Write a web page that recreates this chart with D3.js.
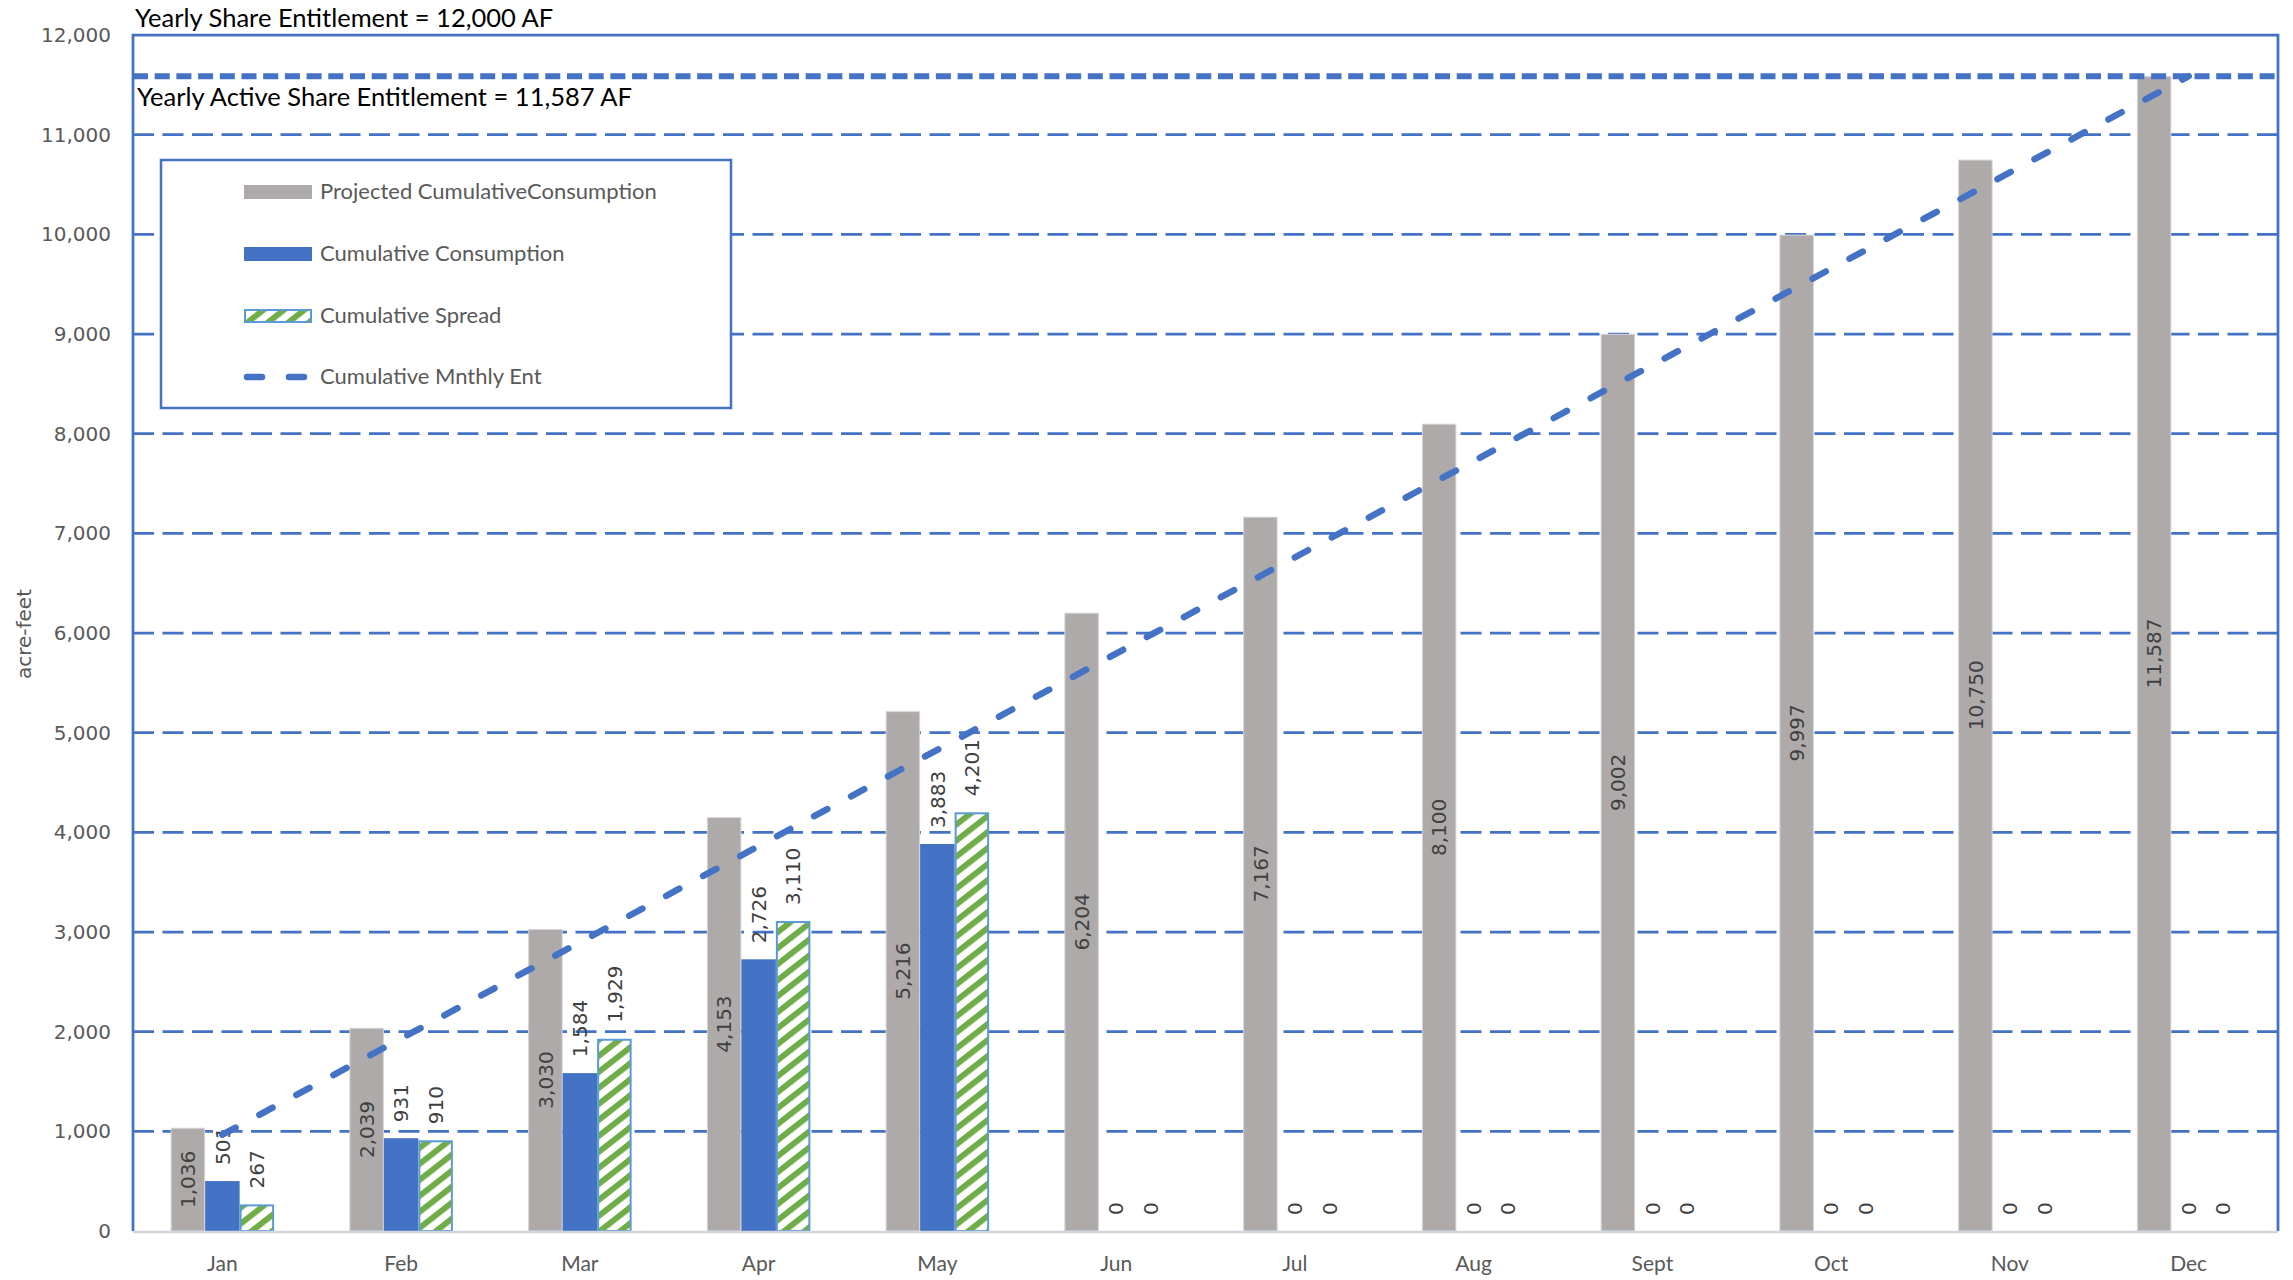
<!DOCTYPE html>
<html>
<head>
<meta charset="utf-8">
<script src="https://cdn.jsdelivr.net/npm/d3@7"></script>
<style>
  html, body { margin: 0; padding: 0; background: #fff; }
  svg { display: block; }
</style>
</head>
<body>
<svg id="chart" width="2293" height="1280"></svg>
<script>
// ---- data ----
const months = ["Jan", "Feb", "Mar", "Apr", "May", "Jun", "Jul", "Aug", "Sept", "Oct", "Nov", "Dec"];
const projected = [1036, 2039, 3030, 4153, 5216, 6204, 7167, 8100, 9002, 9997, 10750, 11587];
const consumption = [501, 931, 1584, 2726, 3883, 0, 0, 0, 0, 0, 0, 0];
const spread = [267, 910, 1929, 3110, 4201, 0, 0, 0, 0, 0, 0, 0];
const monthlyEnt = [966, 1931, 2897, 3862, 4828, 5794, 6759, 7725, 8690, 9656, 10621, 11587];
const yTicks = [0, 1000, 2000, 3000, 4000, 5000, 6000, 7000, 8000, 9000, 10000, 11000, 12000];
const yearlyShare = 12000;
const activeShare = 11587;
const legendLabels = ["Projected CumulativeConsumption", "Cumulative Consumption", "Cumulative Spread", "Cumulative Mnthly Ent"];

// ---- layout ----
const plot = { left: 133, right: 2278, top: 35, bottom: 1231 };
const BLUE = "#4472C4", GRAY = "#AEAAAA", GREEN = "#70AD47", EDGE = "#5B9BD5";
const TEXT = "#595959", LABEL = "#404040";
const NUM_FONT = "'DejaVu Sans', Verdana, sans-serif";
const TXT_FONT = "Lato, 'Open Sans', sans-serif";

const svg = d3.select("#chart");

const x = d3.scaleBand().domain(months).range([plot.left, plot.right]);
const y = d3.scaleLinear().domain([0, yearlyShare]).range([plot.bottom, plot.top]);
const barW = x.bandwidth() * 0.193;
const inner = d3.scaleBand()
  .domain(["proj", "cons", "spread"])
  .range([(x.bandwidth() - 3 * barW) / 2, (x.bandwidth() + 3 * barW) / 2]);

// hatch fill for the spread bars
const defs = svg.append("defs");
const hatch = defs.append("pattern")
  .attr("id", "spreadHatch")
  .attr("patternUnits", "userSpaceOnUse")
  .attr("width", 24).attr("height", 16)
  .attr("patternTransform", "skewY(-38)");
hatch.append("rect").attr("width", 24).attr("height", 16).attr("fill", "#fff");
hatch.append("rect").attr("width", 24).attr("height", 7.5).attr("fill", GREEN);

// ---- gridlines ----
svg.append("g")
  .selectAll("line")
  .data(yTicks.filter(t => t > 0 && t < yearlyShare))
  .join("line")
  .attr("x1", plot.left).attr("x2", plot.right)
  .attr("y1", d => y(d)).attr("y2", d => y(d))
  .attr("stroke", BLUE)
  .attr("stroke-width", 2.75)
  .attr("stroke-dasharray", "21,8.5");

// ---- bars ----
const series = [
  { key: "proj", values: projected, fill: GRAY, stroke: "#d6d4d4", sw: 1 },
  { key: "cons", values: consumption, fill: BLUE, stroke: "none", sw: 0 },
  { key: "spread", values: spread, fill: "url(#spreadHatch)", stroke: EDGE, sw: 2 }
];

series.forEach(s => {
  const rows = months.map((m, i) => ({ m, v: s.values[i] }));
  svg.append("g")
    .selectAll("rect")
    .data(rows.filter(d => d.v > 0))
    .join("rect")
    .attr("x", d => x(d.m) + inner(s.key) + s.sw / 2)
    .attr("width", inner.bandwidth() - s.sw)
    .attr("y", d => y(d.v) + s.sw / 2)
    .attr("height", d => y(0) - y(d.v) - s.sw / 2)
    .attr("fill", s.fill)
    .attr("stroke", s.stroke)
    .attr("stroke-width", s.sw);
});

// ---- bar labels ----
const fmt = d3.format(",");
const labels = svg.append("g")
  .attr("font-family", NUM_FONT)
  .attr("font-size", 20)
  .attr("fill", LABEL);

// projected: centred inside the bar
labels.selectAll("text.proj")
  .data(months.map((m, i) => ({ m, v: projected[i] })))
  .join("text")
  .attr("class", "proj")
  .attr("transform", d => {
    const cx = x(d.m) + inner("proj") + inner.bandwidth() / 2;
    const cy = (y(d.v) + y(0)) / 2;
    return `translate(${cx},${cy}) rotate(-90)`;
  })
  .attr("text-anchor", "middle")
  .attr("dy", "0.36em")
  .text(d => fmt(d.v));

// consumption and spread: just above the bar end
[["cons", consumption], ["spread", spread]].forEach(([key, vals]) => {
  labels.selectAll("text." + key)
    .data(months.map((m, i) => ({ m, v: vals[i] })))
    .join("text")
    .attr("class", key)
    .attr("transform", d => {
      const cx = x(d.m) + inner(key) + inner.bandwidth() / 2;
      const cy = y(d.v) - 16;
      return `translate(${cx},${cy}) rotate(-90)`;
    })
    .attr("text-anchor", "start")
    .attr("dy", "0.36em")
    .text(d => fmt(d.v));
});

// ---- cumulative monthly entitlement line ----
const line = d3.line()
  .x(d => x(d.m) + x.bandwidth() / 2)
  .y(d => y(d.v));
svg.append("path")
  .datum(months.map((m, i) => ({ m, v: monthlyEnt[i] })))
  .attr("d", line)
  .attr("fill", "none")
  .attr("stroke", BLUE)
  .attr("stroke-width", 6.5)
  .attr("stroke-linecap", "round")
  .attr("stroke-dasharray", "15,27");

// ---- active share entitlement reference line ----
svg.append("line")
  .attr("x1", plot.left).attr("x2", plot.right)
  .attr("y1", y(activeShare)).attr("y2", y(activeShare))
  .attr("stroke", BLUE)
  .attr("stroke-width", 6)
  .attr("stroke-dasharray", "15,6.7");

// ---- frame ----
svg.append("line")
  .attr("x1", plot.left).attr("x2", plot.right)
  .attr("y1", plot.bottom + 1).attr("y2", plot.bottom + 1)
  .attr("stroke", "#D0D5DE").attr("stroke-width", 2.5);
svg.append("path")
  .attr("d", `M${plot.left},${plot.bottom}V${y(yearlyShare)}H${plot.right}V${plot.bottom}`)
  .attr("fill", "none")
  .attr("stroke", BLUE)
  .attr("stroke-width", 2.75);

// ---- axes ----
const yAxis = svg.append("g")
  .attr("transform", `translate(${plot.left},0)`)
  .call(d3.axisLeft(y).tickValues(yTicks).tickFormat(fmt).tickSize(0).tickPadding(22));
yAxis.select(".domain").remove();
yAxis.selectAll("text")
  .attr("font-family", NUM_FONT)
  .attr("font-size", 20)
  .attr("fill", TEXT);

const xAxis = svg.append("g")
  .attr("transform", `translate(0,${plot.bottom})`)
  .call(d3.axisBottom(x).tickSize(0).tickPadding(25.5));
xAxis.select(".domain").remove();
xAxis.selectAll("text")
  .attr("font-family", TXT_FONT)
  .attr("font-size", 21)
  .attr("fill", TEXT);

svg.append("text")
  .attr("transform", `translate(31,634) rotate(-90)`)
  .attr("text-anchor", "middle")
  .attr("font-family", NUM_FONT)
  .attr("font-size", 20)
  .attr("fill", TEXT)
  .text("acre-feet");

// ---- headings ----
svg.append("text")
  .attr("x", 135).attr("y", 27)
  .attr("font-family", TXT_FONT).attr("font-size", 25.5)
  .attr("fill", "#000")
  .text("Yearly Share Entitlement = 12,000 AF");
svg.append("text")
  .attr("x", 137).attr("y", 106)
  .attr("font-family", TXT_FONT).attr("font-size", 25.5)
  .attr("fill", "#000")
  .text("Yearly Active Share Entitlement = 11,587 AF");

// ---- legend ----
const legend = svg.append("g");
legend.append("rect")
  .attr("x", 161).attr("y", 160)
  .attr("width", 570).attr("height", 248)
  .attr("fill", "#fff")
  .attr("stroke", BLUE).attr("stroke-width", 2.5);

const rowY = [192, 254, 316, 377];
legend.append("rect").attr("x", 244).attr("y", rowY[0] - 7).attr("width", 68).attr("height", 14).attr("fill", GRAY);
legend.append("rect").attr("x", 244).attr("y", rowY[1] - 7).attr("width", 68).attr("height", 14).attr("fill", BLUE);
legend.append("rect").attr("x", 245).attr("y", rowY[2] - 6).attr("width", 66).attr("height", 12)
  .attr("fill", "url(#spreadHatch)").attr("stroke", EDGE).attr("stroke-width", 2);
legend.append("line").attr("x1", 247).attr("x2", 309).attr("y1", rowY[3]).attr("y2", rowY[3])
  .attr("stroke", BLUE).attr("stroke-width", 6.5).attr("stroke-linecap", "round")
  .attr("stroke-dasharray", "15,27");

legend.selectAll("text.leg")
  .data(legendLabels)
  .join("text")
  .attr("class", "leg")
  .attr("x", 320)
  .attr("y", (d, i) => rowY[i] + 7)
  .attr("font-family", TXT_FONT)
  .attr("font-size", 22)
  .attr("fill", TEXT)
  .text(d => d);
</script>
</body>
</html>
